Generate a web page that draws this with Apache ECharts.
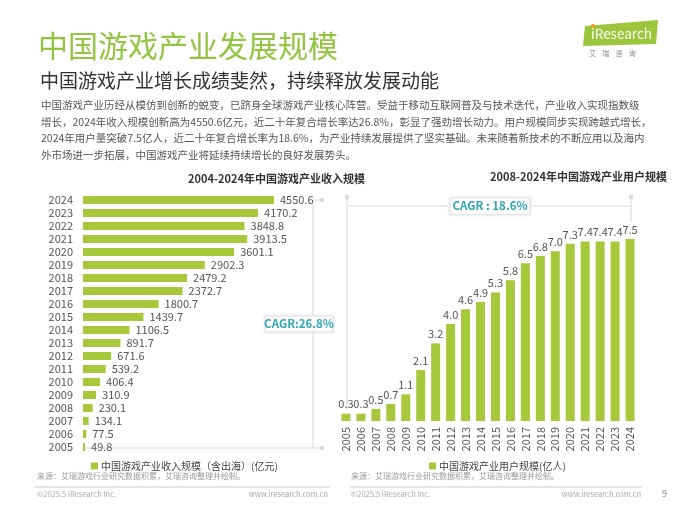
<!DOCTYPE html>
<html>
<head>
<meta charset="utf-8">
<script src="https://cdn.jsdelivr.net/npm/echarts@6/dist/echarts.min.js"></script>
<style>
  html, body { margin: 0; padding: 0; background: #fff; }
  #chart { width: 677px; height: 507px; }
</style>
</head>
<body>
<div id="chart"></div>
<script>
// ---------------------------------------------------
// Data
// ---------------------------------------------------
const years = ["2005", "2006", "2007", "2008", "2009", "2010", "2011", "2012", "2013", "2014",
  "2015", "2016", "2017", "2018", "2019", "2020", "2021", "2022", "2023", "2024"];

// 收入规模（亿元）
const revenue = [49.8, 77.5, 134.1, 230.1, 310.9, 406.4, 539.2, 671.6, 891.7, 1106.5,
  1439.7, 1800.7, 2372.7, 2479.2, 2902.3, 3601.1, 3913.5, 3848.8, 4170.2, 4550.6];

// 用户规模（亿人）
const users = [0.3, 0.3, 0.5, 0.7, 1.1, 2.1, 3.2, 4.0, 4.6, 4.9,
  5.3, 5.8, 6.5, 6.8, 7.0, 7.3, 7.4, 7.4, 7.4, 7.5];

const revenueName = "中国游戏产业收入规模（含出海）(亿元)";
const usersName = "中国游戏产业用户规模(亿人)";

const paragraph = [
  "中国游戏产业历经从模仿到创新的蜕变，已跻身全球游戏产业核心阵营。受益于移动互联网普及与技术迭代，产业收入实现指数级",
  "增长，2024年收入规模创新高为4550.6亿元，近二十年复合增长率达26.8%，彰显了强劲增长动力。用户规模同步实现跨越式增长，",
  "2024年用户量突破7.5亿人，近二十年复合增长率为18.6%，为产业持续发展提供了坚实基础。未来随着新技术的不断应用以及海内",
  "外市场进一步拓展，中国游戏产业将延续持续增长的良好发展势头。"
];

const GREEN = "#a6c83a";
const TEAL = "#2fa7b3";
const FONT = "'Noto Sans CJK SC', 'Noto Sans', sans-serif";
const LINE = "#d9d9d9";

// ---------------------------------------------------
// Chart
// ---------------------------------------------------
const chart = echarts.init(document.getElementById("chart"), null, { renderer: "canvas" });

const textStyle = (x, y, text, size, color, extra) => ({
  type: "text",
  left: x,
  top: y,
  style: Object.assign({ text, fontSize: size, fill: color, fontFamily: FONT }, extra || {})
});

const headerGraphics = [
  textStyle(38, 31, "中国游戏产业发展规模", 30, "#92c540"),
  textStyle(40, 71, "中国游戏产业增长成绩斐然，持续释放发展动能", 19, "#333"),
  ...paragraph.map((line, i) => textStyle(41, 100 + i * 16.5, line, 10.5, "#555")),
  // logo
  {
    type: "polygon",
    shape: { points: [[585, 26], [658, 20], [656, 44], [583, 46]] },
    style: { fill: "#9cc63b" }
  },
  textStyle(591, 27, "iResearch", 13.5, "#fff"),
  { type: "circle", shape: { cx: 593, cy: 26, r: 2 }, style: { fill: "#f39a1e" } },
  textStyle(589, 50, "艾    瑞    咨    询", 7, "#888"),
  // footer
  textStyle(37, 472, "来源：艾瑞游戏行业研究数据积累，艾瑞咨询整理并绘制。", 8, "#999"),
  textStyle(351, 472, "来源：艾瑞游戏行业研究数据积累，艾瑞咨询整理并绘制。", 8, "#999"),
  { type: "line", shape: { x1: 35, y1: 487, x2: 330, y2: 487 }, style: { stroke: "#ccc", lineWidth: 1 } },
  { type: "line", shape: { x1: 350, y1: 487, x2: 642, y2: 487 }, style: { stroke: "#ccc", lineWidth: 1 } },
  textStyle(37, 490, "©2025.5 iResearch Inc.", 7.5, "#aaa"),
  { type: "text", style: { x: 328, y: 490, text: "www.iresearch.com.cn", fontSize: 7.5, fill: "#aaa", align: "right", fontFamily: FONT } },
  textStyle(351, 490, "©2025.5 iResearch Inc.", 7.5, "#aaa"),
  { type: "text", style: { x: 641, y: 490, text: "www.iresearch.com.cn", fontSize: 7.5, fill: "#aaa", align: "right", fontFamily: FONT } },
  textStyle(662, 489, "9", 9, "#888"),
  // chart titles
  textStyle(188, 173, "2004-2024年中国游戏产业收入规模", 11, "#333",
    { fontWeight: "bold", align: "center" }),
  textStyle(490, 171, "2008-2024年中国游戏产业用户规模", 11, "#333",
    { fontWeight: "bold", align: "center" })
];

chart.setOption({
  backgroundColor: "#fff",
  animation: false,
  textStyle: { fontFamily: FONT },
  legend: [
    {
      data: [revenueName],
      left: 86,
      top: 456,
      icon: "rect",
      itemWidth: 7,
      itemHeight: 7,
      itemGap: 4,
      textStyle: { fontSize: 10, color: "#444", padding: [0, 0, 0, -2] }
    },
    {
      data: [usersName],
      left: 424,
      top: 456,
      icon: "rect",
      itemWidth: 7,
      itemHeight: 7,
      textStyle: { fontSize: 10, color: "#444", padding: [0, 0, 0, -2] }
    }
  ],
  grid: [
    { left: 83, right: 403, top: 193.5, height: 260 },
    { left: 338.5, right: 39.5, top: 239, bottom: 86 }
  ],
  xAxis: [
    {
      gridIndex: 0,
      type: "value",
      min: 0,
      max: v => v.max,
      show: false
    },
    {
      gridIndex: 1,
      type: "category",
      data: years,
      axisLine: { show: false },
      axisTick: { show: false },
      axisLabel: { interval: 0, rotate: 90, fontSize: 11, color: "#555", margin: 6 }
    }
  ],
  yAxis: [
    {
      gridIndex: 0,
      type: "category",
      data: years,
      axisLine: { show: false },
      axisTick: { show: false },
      axisLabel: { interval: 0, fontSize: 11, color: "#555", margin: 10 }
    },
    {
      gridIndex: 1,
      type: "value",
      min: 0,
      max: v => v.max,
      show: false
    }
  ],
  series: [
    {
      name: revenueName,
      type: "bar",
      xAxisIndex: 0,
      yAxisIndex: 0,
      data: revenue,
      barWidth: 8,
      itemStyle: { color: GREEN },
      label: {
        show: true,
        position: "right",
        distance: 6,
        fontSize: 11,
        color: "#555",
        formatter: p => p.value.toFixed(1)
      }
    },
    {
      name: usersName,
      type: "bar",
      xAxisIndex: 1,
      yAxisIndex: 1,
      data: users,
      barWidth: 9,
      itemStyle: { color: GREEN },
      label: {
        show: true,
        position: "top",
        distance: 4,
        fontSize: 11,
        color: "#555",
        formatter: p => p.value.toFixed(1)
      }
    }
  ],
  graphic: headerGraphics
});

// ---------------------------------------------------
// CAGR brackets, placed from the axes
// ---------------------------------------------------
function addBrackets() {
  const last = years.length - 1;
  const topL = chart.convertToPixel({ gridIndex: 0 }, [0, last]);
  const botL = chart.convertToPixel({ gridIndex: 0 }, [0, 0]);
  const xL = 313;
  const yTop = topL[1];
  const yBot = botL[1] + 1;
  const midL = (yTop + yBot) / 2;

  const firstR = chart.convertToPixel({ gridIndex: 1 }, [0, 0]);
  const lastR = chart.convertToPixel({ gridIndex: 1 }, [last, users[last]]);
  const xR1 = firstR[0] + 1;
  const xR2 = lastR[0] + 1;
  const yR = 206;
  const midR = 490;

  const seg = (x1, y1, x2, y2) => ({
    type: "line",
    shape: { x1, y1, x2, y2 },
    style: { stroke: LINE, lineWidth: 1 }
  });
  const dot = (x, y) => ({
    type: "rect",
    shape: { x: x - 2, y: y - 2, width: 4, height: 4 },
    style: { fill: "#ddd" }
  });
  const box = (x, y, w, h, text) => ({
    type: "group",
    children: [
      {
        type: "rect",
        shape: { x, y, width: w, height: h },
        style: { fill: "#fff", stroke: "#e6e6e6", shadowBlur: 3, shadowColor: "rgba(0,0,0,0.12)" }
      },
      {
        type: "text",
        style: {
          x: x + w / 2, y: y + h / 2, text, align: "center", verticalAlign: "middle",
          fontSize: 11.5, fontWeight: "bold", fill: TEAL, fontFamily: FONT
        }
      }
    ]
  });

  chart.setOption({
    graphic: headerGraphics.concat([
      // left bracket
      seg(xL, yTop, 322, yTop),
      seg(xL, yTop, xL, midL - 9),
      seg(xL, midL + 9, xL, yBot),
      seg(83, yBot, 322, yBot),
      dot(322, yTop),
      dot(322, yBot),
      box(265, midL - 8, 68, 16, "CAGR:26.8%"),
      // right bracket
      seg(xR1, 197, xR1, 410),
      seg(xR2, 197, xR2, 222),
      seg(xR1, yR, midR - 42, yR),
      seg(midR + 42, yR, xR2, yR),
      dot(xR1, 197),
      dot(xR2, 197),
      box(midR - 40, yR - 8.5, 80, 17, "CAGR : 18.6%")
    ])
  }, { replaceMerge: ["graphic"] });
}

addBrackets();
</script>
</body>
</html>
